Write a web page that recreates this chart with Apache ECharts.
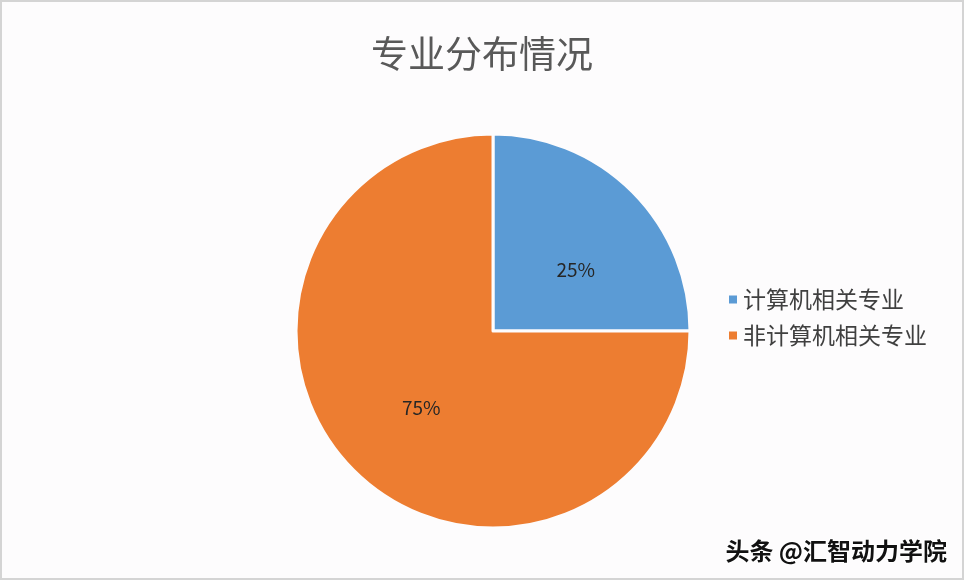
<!DOCTYPE html>
<html>
<head>
<meta charset="utf-8">
<script src="https://cdn.jsdelivr.net/npm/echarts@6/dist/echarts.min.js"></script>
<style>
  html, body { margin: 0; padding: 0; background: #fdfcfd; }
  #chart { width: 964px; height: 580px; box-sizing: border-box; border: 2px solid #d4d4d4; }
</style>
</head>
<body>
<div id="chart"></div>
<script>
const categories = ['计算机相关专业', '非计算机相关专业']
const values = [25, 75]
const colors = ['#5b9bd5', '#ed7d31']
// nudge of the inside labels, to match the original layout
const labelOffsets = [[11, 11], [0, 5]]

const chart = echarts.init(document.getElementById('chart'))
const pieData = categories.map(function(name, i) {
  return {
    name: name,
    value: values[i],
    itemStyle: { color: colors[i] },
    label: { offset: labelOffsets[i] }
  }
})

chart.setOption({
  backgroundColor: '#fdfcfd',
  title: {
    text: '专业分布情况',
    left: 'center',
    top: 28,
    textStyle: {
      color: '#595959',
      fontSize: 37,
      fontWeight: 'normal',
      fontFamily: 'Noto Sans CJK SC'
    }
  },
  legend: {
    orient: 'vertical',
    left: 720,
    top: 281,
    itemWidth: 10,
    itemHeight: 10,
    itemGap: 13,
    icon: 'rect',
    textStyle: {
      color: '#404040',
      fontSize: 23,
      fontFamily: 'Noto Sans CJK SC'
    },
    data: categories
  },
  graphic: [{
    type: 'text',
    right: 14,
    top: 536,
    style: {
      text: '头条 @汇智动力学院',
      fill: '#111',
      fontSize: 24,
      fontWeight: 'bold',
      fontFamily: 'Noto Sans CJK SC',
      stroke: '#fff',
      lineWidth: 2
    }
  }],
  series: [{
    type: 'pie',
    center: [491, 329],
    radius: 197,
    startAngle: 90,
    clockwise: true,
    animation: false,
    itemStyle: {
      borderColor: '#fdfcfd',
      borderWidth: 3
    },
    label: {
      position: 'inside',
      formatter: '{d}%',
      color: '#262626',
      fontSize: 19,
      fontFamily: 'Noto Sans CJK SC'
    },
    labelLine: { show: false },
    emphasis: { disabled: true },
    data: pieData
  }]
})
</script>
</body>
</html>
